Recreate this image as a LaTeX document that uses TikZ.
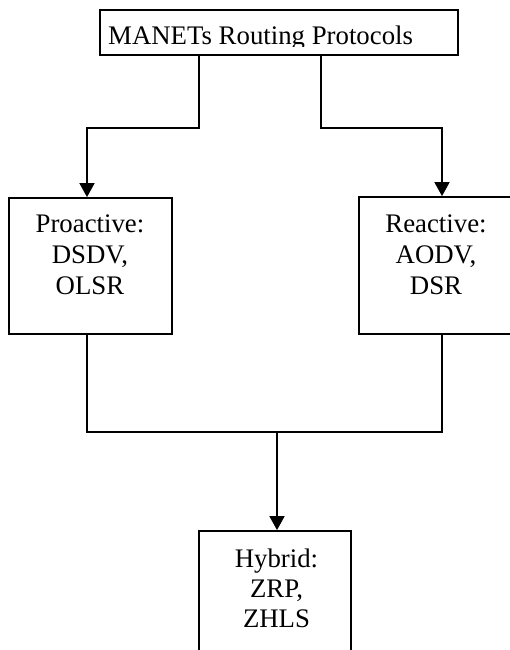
\documentclass[tikz,border=0pt]{standalone}
\usepackage{fontspec}
\setmainfont{Liberation Serif}
\usetikzlibrary{arrows.meta}
\tikzset{
  boxnode/.style={draw=black, line width=1.8pt, rectangle, inner sep=0pt, fill=white},
  txtnode/.style={inner sep=0pt, align=center, font=\fontsize{26.8}{31}\selectfont, text=black},
  plainline/.style={draw=black, line width=1.8pt},
  arrline/.style={plainline, -{Triangle[length=14pt,width=15pt]}},
}
\begin{document}
\begin{tikzpicture}[x=1pt,y=-1pt]
\clip (0,0) rectangle (510,650);
\fill[white] (0,0) rectangle (510,650);
% boxes
\node[boxnode, minimum width=358pt, minimum height=45pt] (top) at (279,32.5) {};
\node[boxnode, minimum width=163pt, minimum height=136pt] (pro) at (90.5,266) {};
\node[boxnode, minimum width=161pt, minimum height=137pt] (rea) at (439.5,265.5) {};
\node[boxnode, minimum width=152pt, minimum height=129pt] (hyb) at (275,595.5) {};
% texts
\begin{scope}
\clip (100,10) rectangle (458,46.3);
\node[txtnode, anchor=base west] (toptxt) at (108,44.5) {MANETs Routing Protocols};
\end{scope}
\node[txtnode, anchor=north] (protxt) at (90,214.6) {Proactive:\\DSDV,\\OLSR};
\node[txtnode, anchor=north] (reatxt) at (436,214.6) {Reactive:\\AODV,\\DSR};
\node[txtnode, anchor=north, font=\fontsize{26.8}{30}\selectfont] (hybtxt) at (276.5,548.6) {Hybrid:\\ZRP,\\ZHLS};
% connector helpers
\coordinate (t1) at (199,128);
\coordinate (t2) at (321,128);
\coordinate (pa) at (87,0);
\coordinate (ra) at (442,0);
\coordinate (ha) at (277,432);
% connectors
\draw[arrline] (top.south -| t1) -- (t1) -| (pro.north -| pa);
\draw[arrline] (top.south -| t2) -- (t2) -| (rea.north -| ra);
\draw[plainline] (pro.south -| pa) |- (ha);
\draw[plainline] (rea.south -| ra) |- (ha);
\draw[arrline] (ha) -- (hyb.north -| ha);
\end{tikzpicture}
\end{document}
